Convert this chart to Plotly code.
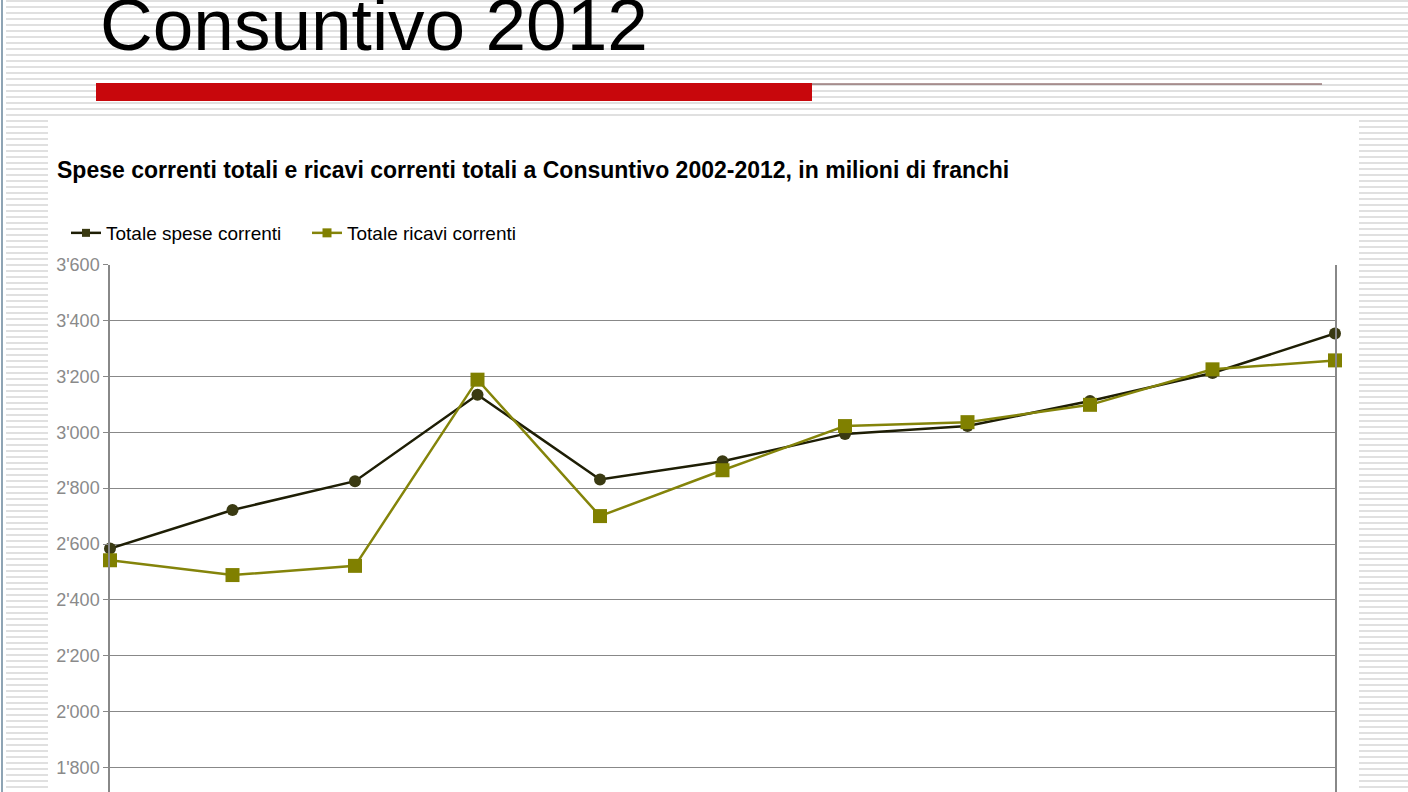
import plotly.graph_objects as go

# ---- data ----
anni = [2002, 2003, 2004, 2005, 2006, 2007, 2008, 2009, 2010, 2011, 2012]
spese_correnti = [2584, 2722, 2825, 3134, 2831, 2896, 2994, 3022, 3112, 3212, 3353]
ricavi_correnti = [2542, 2489, 2522, 3188, 2700, 2864, 3022, 3036, 3098, 3225, 3257]
serie_nomi = ["Totale spese correnti", "Totale ricavi correnti"]
y_tick_vals = [1800, 2000, 2200, 2400, 2600, 2800, 3000, 3200, 3400, 3600]
y_tick_text = ["1'800", "2'000", "2'200", "2'400", "2'600", "2'800", "3'000", "3'200", "3'400", "3'600"]

W, H = 1408, 792
COL_SPESE_LINE, COL_SPESE_MK = "#1e1e05", "#3a3a12"
COL_RICAVI_LINE, COL_RICAVI_MK = "#84840a", "#808000"


def px(x):
    return x / W


def py(y):
    return 1 - y / H


fig = go.Figure()
fig.add_trace(go.Scatter(
    x=anni, y=spese_correnti, name=serie_nomi[0], mode="lines+markers",
    line=dict(color=COL_SPESE_LINE, width=2.5),
    marker=dict(symbol="circle", size=12, color=COL_SPESE_MK),
    cliponaxis=False, showlegend=False,
))
fig.add_trace(go.Scatter(
    x=anni, y=ricavi_correnti, name=serie_nomi[1], mode="lines+markers",
    line=dict(color=COL_RICAVI_LINE, width=2.5),
    marker=dict(symbol="square", size=14, color=COL_RICAVI_MK),
    cliponaxis=False, showlegend=False,
))
# legend entries (small square markers as in the original)
fig.add_trace(go.Scatter(
    x=[None], y=[None], name=serie_nomi[0], mode="lines+markers",
    line=dict(color=COL_SPESE_LINE, width=2.5),
    marker=dict(symbol="square", size=8, color=COL_SPESE_MK),
))
fig.add_trace(go.Scatter(
    x=[None], y=[None], name=serie_nomi[1], mode="lines+markers",
    line=dict(color=COL_RICAVI_LINE, width=2.5),
    marker=dict(symbol="square", size=9, color=COL_RICAVI_MK),
))

shapes = []
# striped slide background (top band, left and right bands)
y = 1.0
while y < H:
    if y < 120:
        shapes.append(dict(type="line", xref="paper", yref="paper", x0=px(6), x1=1,
                           y0=py(y), y1=py(y), line=dict(color="#e0e0e0", width=2), layer="below"))
    else:
        shapes.append(dict(type="line", xref="paper", yref="paper", x0=px(6), x1=px(48),
                           y0=py(y), y1=py(y), line=dict(color="#e0e0e0", width=2), layer="below"))
        shapes.append(dict(type="line", xref="paper", yref="paper", x0=px(1359), x1=1,
                           y0=py(y), y1=py(y), line=dict(color="#e0e0e0", width=2), layer="below"))
    y += 6
# left edge line
shapes.append(dict(type="line", xref="paper", yref="paper", x0=px(2), x1=px(2), y0=0, y1=1,
                   line=dict(color="#8ea4b4", width=2), layer="below"))
# red bar and thin rule
shapes.append(dict(type="rect", xref="paper", yref="paper", x0=px(96), x1=px(812), y0=py(101), y1=py(83),
                   fillcolor="#c8070c", line=dict(width=0), layer="below"))
shapes.append(dict(type="line", xref="paper", yref="paper", x0=px(812), x1=px(1322), y0=py(84), y1=py(84),
                   line=dict(color="#6a3a3a", width=1.2), layer="below"))

annotations = [
    dict(text="Consuntivo 2012", xref="paper", yref="paper", x=px(98), y=py(67),
         xanchor="left", yanchor="bottom", showarrow=False,
         font=dict(family="Liberation Sans, Arial", size=73, color="#000000")),
    dict(text="<b>Spese correnti totali e ricavi correnti totali a Consuntivo 2002-2012, in milioni di franchi</b>",
         xref="paper", yref="paper", x=px(55), y=py(170), xanchor="left", yanchor="middle", showarrow=False,
         font=dict(family="Liberation Sans, Arial", size=23, color="#000000")),
]

fig.update_layout(
    width=W, height=H,
    margin=dict(l=0, r=0, t=0, b=0),
    paper_bgcolor="white", plot_bgcolor="white",
    font=dict(family="Liberation Sans, Arial", color="#000000"),
    showlegend=True,
    legend=dict(orientation="h", x=px(66), y=py(233), xanchor="left", yanchor="middle",
                font=dict(size=19, color="#000000"), bgcolor="rgba(0,0,0,0)",
                entrywidth=196, entrywidthmode="pixels", traceorder="normal"),
    xaxis=dict(domain=[px(110), px(1335)], range=[2002, 2012], showgrid=False, zeroline=False,
               showline=False, showticklabels=False, ticks="", automargin=False, fixedrange=True),
    yaxis=dict(domain=[0, py(264.5)], range=[1713, 3600], tickvals=y_tick_vals, ticktext=y_tick_text,
               showgrid=True, gridcolor="#888888", gridwidth=1.3, zeroline=False,
               showline=True, linecolor="#888888", linewidth=1.5, mirror=True,
               ticks="outside", ticklen=5, tickcolor="#888888",
               tickfont=dict(size=18, color="#8a8a8a"), automargin=False),
    shapes=shapes,
    annotations=annotations,
)

fig.write_html("out.html", config={"displayModeBar": False},
               post_script="document.body.style.margin='0';document.body.style.overflow='hidden';")
